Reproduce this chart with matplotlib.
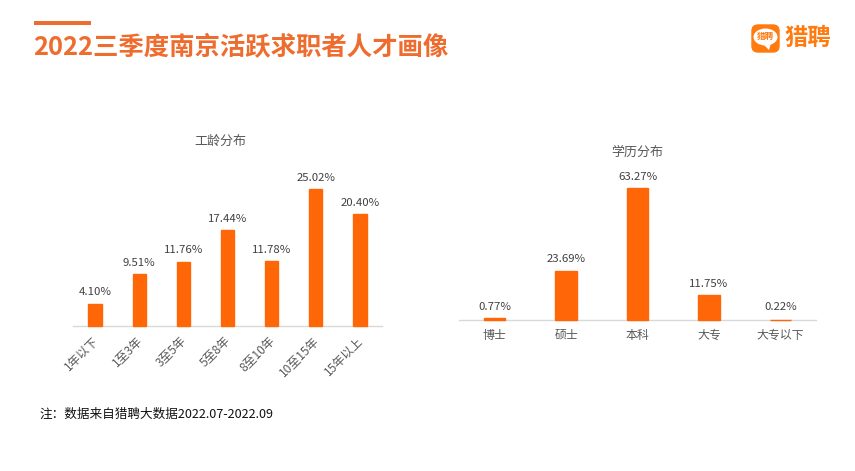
import matplotlib
matplotlib.use("Agg")
import matplotlib.pyplot as plt
from matplotlib.patches import FancyBboxPatch, Ellipse, Polygon, Rectangle
from matplotlib.transforms import ScaledTranslation

plt.rcParams['font.family'] = ['Noto Sans CJK SC', 'DejaVu Sans']

W, H = 855, 471
ORANGE = "#FF6608"
TITLE_ORANGE = "#EE6C2D"
GREY = "#595959"

work_years = ["1年以下", "1至3年", "3至5年", "5至8年", "8至10年", "10至15年", "15年以上"]
work_share = [4.10, 9.51, 11.76, 17.44, 11.78, 25.02, 20.40]

education = ["博士", "硕士", "本科", "大专", "大专以下"]
education_share = [0.77, 23.69, 63.27, 11.75, 0.22]


def px_axes(fig, left, top, right, bottom):
    ax = fig.add_axes([left / W, 1 - bottom / H, (right - left) / W, (bottom - top) / H])
    ax.patch.set_visible(False)
    return ax


def bar_panel(ax, labels, values, ymax, min_label, rotation=0):
    x = range(len(labels))
    # thin edge keeps the very small bars visible, as in the original
    bars = ax.bar(x, values, width=0.3, color=ORANGE, edgecolor=ORANGE, linewidth=1.0, zorder=3)
    for b in bars:
        b.set_clip_on(False)
    ax.set_xlim(-0.5, len(labels) - 0.5)
    ax.set_ylim(0, ymax)
    ax.set_yticks([])
    ax.set_xticks(list(x))
    for side in ("top", "left", "right"):
        ax.spines[side].set_visible(False)
    ax.spines["bottom"].set_color("#D9D9D9")
    ax.spines["bottom"].set_linewidth(1.0)
    if rotation:
        ax.tick_params(axis="x", length=0, pad=6)
        ax.set_xticklabels(labels, rotation=rotation, ha="right", rotation_mode="anchor",
                           fontsize=8.6, color=GREY)
        shift = ScaledTranslation(-3 / 100, 0, ax.figure.dpi_scale_trans)
        for t in ax.get_xticklabels():
            t.set_transform(t.get_transform() + shift)
    else:
        ax.tick_params(axis="x", length=0, pad=6.5)
        ax.set_xticklabels(labels, fontsize=8.6, color=GREY)
    for i, v in enumerate(values):
        ax.annotate(f"{v:.2f}%", (i, max(v, min_label)), xytext=(0, 4.5), textcoords="offset points",
                    ha="center", va="bottom", fontsize=8.2, color="#404040")


fig = plt.figure(figsize=(W / 100, H / 100), dpi=100, facecolor="white")

# full-figure overlay in pixel coords, for header, logo and footnote
bg = fig.add_axes([0, 0, 1, 1])
bg.set_xlim(0, W)
bg.set_ylim(H, 0)
bg.axis("off")

bg.add_patch(Rectangle((34, 21), 57, 4, color=TITLE_ORANGE, lw=0))
bg.text(33, 47, "2022三季度南京活跃求职者人才画像", fontsize=18.3, fontweight="bold",
        color=TITLE_ORANGE, ha="left", va="center")
bg.text(39, 414, "注：数据来自猎聘大数据2022.07-2022.09", fontsize=9.1, color="#111111",
        ha="left", va="center")

bg.text(220.5, 141, "工龄分布", fontsize=9.4, color=GREY, ha="center", va="center")
bg.text(637, 152, "学历分布", fontsize=9.4, color=GREY, ha="center", va="center")

# logo
bg.add_patch(FancyBboxPatch((752, 25), 27, 27, boxstyle="round,pad=0,rounding_size=6",
                            fc="#FF7A0F", ec="#FF7A0F", lw=1))
bg.add_patch(Ellipse((765.5, 37), 24, 17, fc="white", ec="none"))
bg.add_patch(Polygon([[762, 43], [771, 43], [769, 50]], fc="white", ec="none"))
bg.text(765.5, 37, "猎聘", fontsize=6.2, fontweight="bold", color="#FF7A0F", ha="center", va="center")
bg.text(808, 38, "猎聘", fontsize=16.8, fontweight="bold", color="#FF7A0F", ha="center", va="center")

left = px_axes(fig, 73, 120, 382, 326)
bar_panel(left, work_years, work_share, 37.6, 0.0, rotation=45)

right = px_axes(fig, 459, 140, 816, 320)
bar_panel(right, education, education_share, 86.3, 0.77)

fig.savefig("out.png", dpi=100)
